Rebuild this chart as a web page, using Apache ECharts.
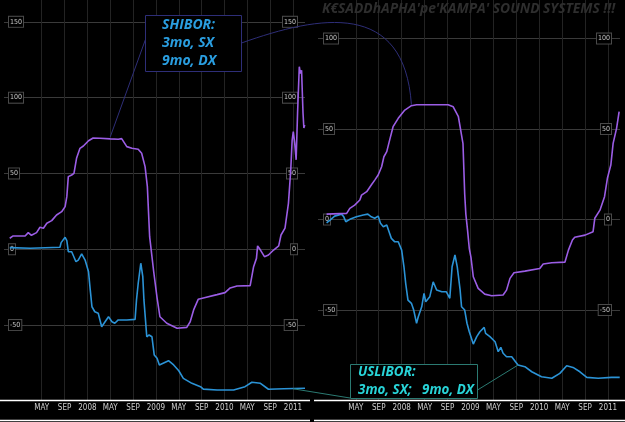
<!DOCTYPE html>
<html>
<head>
<meta charset="utf-8">
<script src="https://cdn.jsdelivr.net/npm/echarts@6/dist/echarts.min.js"></script>
<style>
  html, body { margin: 0; padding: 0; background: #000; }
  #chart { width: 625px; height: 422px; }
</style>
</head>
<body>
<div id="chart"></div>
<script>
// x = months counted from JAN 2007 (12 = 2008, 24 = 2009 ...), y = % change
// left panel: 3 month rates
const shibor3mMonths = [-1.6, -1, 1.1, 1.65, 2.2, 3.1, 3.7, 4.3, 4.9, 5.75, 6.6, 7.5, 8.1, 8.4, 8.66, 9.25, 9.65, 10.1, 10.7, 11.3, 12.2, 13, 14.2, 16, 17.4, 18, 18.9, 19.8, 20.9, 21.5, 22.1, 22.5, 22.9, 23.6, 24.2, 24.7, 25.9, 27.7, 29.4, 30, 30.6, 31.4, 32.3, 34.7, 36.1, 37, 38.2, 40.5, 41.1, 41.6, 41.8, 42.3, 43, 43.7, 44.6, 45.5, 45.9, 46.6, 47.2, 47.6, 47.85, 48.05, 48.3, 48.55, 48.8, 49.1, 49.3, 49.5, 49.75, 49.9, 50.05];
const shibor3mValues = [7.3, 8.8, 8.8, 11, 9.2, 11, 14.5, 13.9, 17.2, 18.9, 22.6, 24.8, 28.1, 34.7, 47.9, 49, 50.1, 60, 66.6, 68.1, 71.6, 73.4, 73.2, 72.8, 72.6, 73, 67.7, 66.6, 66, 63.3, 54.5, 41.3, 8.3, -14.5, -32, -44.5, -48.8, -52.1, -51.5, -47.8, -40, -33, -32.1, -29.9, -28.6, -25.5, -24.2, -24, -11.5, -6, 2.2, -0.5, -4.9, -3.8, -0.5, 2.2, 9.4, 13.9, 30.3, 52, 72, 77.6, 70, 59, 90, 120.4, 116, 118, 90, 80, 82];
const libor3mMonths = [-1.6, 2, 7.2, 7.4, 7.7, 8.1, 8.4, 8.66, 9.25, 10, 10.4, 11, 11.6, 12.2, 12.5, 12.8, 13.3, 13.9, 14.5, 15.1, 15.7, 16.3, 16.8, 17.4, 18.9, 20.35, 20.6, 20.9, 21.35, 21.7, 21.9, 22.4, 22.8, 23.3, 23.7, 24.2, 24.6, 26.2, 27.1, 28, 28.8, 30.3, 31.8, 32.3, 34.7, 37.6, 39.6, 40.8, 42.3, 43.7, 46.4, 50.1];
const libor3mValues = [1.1, 0.7, 1.3, 4.4, 3.5, 7.9, 5.7, -1.6, -1.6, -8.2, -7.1, -3.1, -7.1, -14.8, -26.8, -37.9, -41.2, -42.2, -51.1, -47.8, -44.5, -47.8, -48.8, -46.6, -46.6, -46.2, -33.4, -22.4, -9.2, -18.1, -33.4, -57.7, -56.5, -57.7, -69.7, -71.9, -76.3, -73.5, -76.3, -80.1, -85.1, -88.4, -90.6, -92.2, -92.8, -92.8, -90.6, -87.7, -88.4, -92.3, -92, -91.7];

// right panel: 9 month rates
const shibor9mMonths = [-1.1, 2.4, 2.95, 3.8, 4.7, 5, 5.9, 6.7, 7.3, 7.9, 8.5, 8.9, 9.4, 9.9, 10.5, 11.4, 12.55, 13.7, 14.6, 20.1, 21, 21.9, 22.7, 23.0, 23.2, 23.5, 23.8, 24.1, 24.5, 25.35, 26.5, 27.7, 29.7, 30.3, 30.9, 31.6, 33.5, 36.1, 36.7, 38.2, 40.5, 41.1, 41.8, 42.2, 44, 45.4, 45.7, 46.6, 47.4, 47.9, 48.5, 48.9, 49.2, 49.5, 49.95];
const shibor9mValues = [3, 3.4, 6.2, 8, 10.8, 13.5, 15.4, 19.1, 21.8, 24.6, 29.2, 34.7, 37.5, 43.9, 51.3, 55.9, 60.5, 62.9, 63.4, 63.4, 62.3, 56.8, 42, 14, 3, -6, -16, -21, -31.6, -38, -41.2, -42.1, -41.7, -39, -32.5, -29.4, -28.5, -27, -24.6, -23.9, -23.5, -16.9, -11.3, -9.8, -8.6, -6.7, 0.7, 5.2, 12.6, 22.8, 30.1, 42.1, 43, 50.4, 59.6];
const libor9mMonths = [-1.1, -0.5, 0.3, 1.5, 1.9, 2.25, 2.95, 4.1, 5.3, 6.1, 6.7, 7.3, 7.9, 8.3, 8.8, 9.4, 9.8, 10.2, 10.8, 11.4, 12, 12.4, 12.7, 13.1, 13.7, 14.1, 14.6, 14.9, 15.5, 15.9, 16.2, 16.9, 17.5, 18.1, 19, 19.8, 20.4, 20.8, 21.3, 21.7, 22.2, 22.45, 23, 23.4, 23.8, 24.5, 25.1, 25.65, 26.4, 26.65, 27.4, 28.3, 28.85, 29.3, 29.7, 30.3, 31.2, 32.3, 33.5, 34.7, 36.4, 38.2, 39.6, 40.8, 41.9, 43.1, 44.3, 46.3, 48.6, 50.05];
const libor9mValues = [-1.8, -0.3, 1.9, 3, 1.5, -1.2, 0.1, 1.5, 2.5, 3, 1.5, 0.7, 1.9, -2.1, -4, -3, -6.7, -10.4, -12.3, -12.3, -16.9, -26.1, -35.2, -44.5, -46.3, -50, -57.3, -53.7, -48.2, -40.8, -45.4, -42.7, -34.4, -38.9, -39.9, -39.9, -43.5, -26.1, -19.6, -26.1, -38.9, -48.2, -50, -57.3, -62, -68.8, -64.7, -62, -59.6, -62.9, -64.7, -67.5, -73, -70.6, -73.9, -75.8, -75.8, -80.4, -81.3, -84.1, -86.9, -87.7, -85, -80.8, -81.7, -84.1, -87.2, -87.7, -87.2, -87.2];

// axis ticks
const monthTicks = [4, 8, 12, 16, 20, 24, 28, 32, 36, 40, 44, 48];
const monthNames = ['MAY', 'SEP', '2008', 'MAY', 'SEP', '2009', 'MAY', 'SEP', '2010', 'MAY', 'SEP', '2011'];
const leftTicks = [-50, 0, 50, 100, 150];
const rightTicks = [-50, 0, 50, 100];

const PURPLE = '#9b5de5';
const BLUE = '#2b93d6';
const NARROW = "'Liberation Sans Narrow', 'DejaVu Sans Condensed', 'Roboto Condensed', sans-serif";
const NOTE_FONT = "'Open Sans', 'DejaVu Sans', sans-serif";

const zip = (ms, vs) => ms.map((m, i) => [m, vs[i]]);

const chart = echarts.init(document.getElementById('chart'));

const xAxisFor = (grid) => ({
  type: 'value', gridIndex: grid, min: -2.6, max: 50.1,
  axisLine: { show: false },
  axisTick: { show: false, customValues: monthTicks },
  axisLabel: {
    customValues: monthTicks, margin: 4, color: '#cfcfcf', fontSize: 8, fontFamily: NARROW,
    formatter: (v) => monthNames[monthTicks.indexOf(v)]
  },
  splitLine: { show: true, lineStyle: { color: '#232323', width: 1 } }
});

const yAxisFor = (grid, pos, min, max, ticks, margin, lines) => ({
  type: 'value', gridIndex: grid, position: pos, min: min, max: max,
  axisLine: { show: false },
  axisTick: { show: false, customValues: ticks },
  axisLabel: {
    customValues: ticks, inside: true, margin: margin, color: '#c8c8c8', fontSize: 7, fontFamily: NARROW,
    backgroundColor: '#000', borderColor: '#4a4a4a', borderWidth: 1, padding: [2, 1, 1, 1]
  },
  splitLine: { show: lines, lineStyle: { color: '#3a3a3a', width: 1 } }
});

const lineSeries = (xi, yi, data, color) => ({
  type: 'line', xAxisIndex: xi, yAxisIndex: yi, data: data,
  showSymbol: false, animation: false, z: 3,
  lineStyle: { color: color, width: 1.6 }
});

chart.setOption({
  backgroundColor: '#000',
  animation: false,
  grid: [
    { left: 4, top: 0, width: 301, height: 400 },
    { left: 318, top: 0, width: 302, height: 400 }
  ],
  xAxis: [xAxisFor(0), xAxisFor(1)],
  yAxis: [
    yAxisFor(0, 'left', -99.4, 164.4, leftTicks, 5, true),
    yAxisFor(0, 'right', -99.4, 164.4, leftTicks, 8, false),
    yAxisFor(1, 'left', -99.7, 121.3, rightTicks, 6, true),
    yAxisFor(1, 'right', -99.7, 121.3, rightTicks, 9, false)
  ],
  series: [
    lineSeries(0, 0, zip(libor3mMonths, libor3mValues), BLUE),
    lineSeries(0, 0, zip(shibor3mMonths, shibor3mValues), PURPLE),
    lineSeries(1, 2, zip(libor9mMonths, libor9mValues), BLUE),
    lineSeries(1, 2, zip(shibor9mMonths, shibor9mValues), PURPLE)
  ]
});

// anchor points of the notes, taken from the plotted curves
const pL = (p) => chart.convertToPixel({ xAxisIndex: 0, yAxisIndex: 0 }, p);
const pR = (p) => chart.convertToPixel({ xAxisIndex: 1, yAxisIndex: 2 }, p);
const a1 = pL([shibor3mMonths[23], shibor3mValues[23]]);
const a2 = pR([shibor9mMonths[17], shibor9mValues[17]]);
const a3 = pL([48, -92]);
const a4 = pR([libor9mMonths[57], libor9mValues[57]]);

const noteText = (x, y, text, color, size) => ({
  type: 'text', z: 12, x: x, y: y,
  style: { text: text, fill: color, fontSize: size, fontStyle: 'italic', fontWeight: 'bold', fontFamily: NOTE_FONT, lineHeight: 18 }
});

chart.setOption({
  graphic: [
    // bottom rules
    { type: 'line', z: 5, shape: { x1: 0, y1: 400.5, x2: 310, y2: 400.5 }, style: { stroke: '#fff', lineWidth: 1.5 } },
    { type: 'line', z: 5, shape: { x1: 314, y1: 400.5, x2: 625, y2: 400.5 }, style: { stroke: '#fff', lineWidth: 1.5 } },
    { type: 'line', z: 5, shape: { x1: 0, y1: 420.5, x2: 310, y2: 420.5 }, style: { stroke: '#fff', lineWidth: 1.5 } },
    { type: 'line', z: 5, shape: { x1: 314, y1: 420.5, x2: 625, y2: 420.5 }, style: { stroke: '#fff', lineWidth: 1.5 } },
    // title
    {
      type: 'text', z: 12, x: 322, y: 2,
      style: { text: "K€SADDhAPHA'pe'KAMPA' SOUND SYSTEMS !!!", fill: '#2e2e2e', fontSize: 13.8, fontStyle: 'italic', fontWeight: 'bold', fontFamily: NOTE_FONT }
    },
    // SHIBOR note
    { type: 'line', z: 10, shape: { x1: 146, y1: 38, x2: a1[0], y2: a1[1] - 2 }, style: { stroke: '#2e2e78', lineWidth: 1 } },
    {
      type: 'bezierCurve', z: 10,
      shape: { x1: 241.5, y1: 43, cpx1: 320, cpy1: 15, cpx2: a2[0] - 7, cpy2: 0, x2: a2[0], y2: a2[1] - 1 },
      style: { stroke: '#2e2e78', lineWidth: 1, fill: null }
    },
    { type: 'rect', z: 11, shape: { x: 145.5, y: 15.5, width: 96, height: 56 }, style: { fill: '#000', stroke: '#2e2e78', lineWidth: 1 } },
    noteText(162, 16, 'SHIBOR:\n3mo, SX\n9mo, DX', '#2a9ee0', 14),
    // USLIBOR note
    { type: 'line', z: 10, shape: { x1: a3[0], y1: a3[1], x2: 350, y2: 398 }, style: { stroke: '#2b7a72', lineWidth: 1 } },
    { type: 'line', z: 10, shape: { x1: 477.5, y1: 390, x2: a4[0], y2: a4[1] }, style: { stroke: '#2b7a72', lineWidth: 1 } },
    { type: 'rect', z: 11, shape: { x: 350.5, y: 364.5, width: 127, height: 34 }, style: { fill: '#000', stroke: '#2b7a72', lineWidth: 1 } },
    noteText(358, 363, 'USLIBOR:\n3mo, SX;   9mo, DX', '#28d4d8', 13.4)
  ]
});
</script>
</body>
</html>
